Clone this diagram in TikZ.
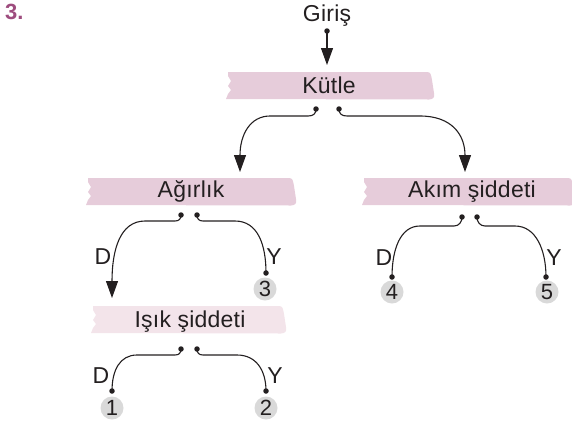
\documentclass[tikz,border=0pt]{standalone}
\usepackage{fontspec}
\setmainfont{Liberation Sans}
\usetikzlibrary{arrows.meta}
\definecolor{bannerA}{HTML}{E6CCDA}
\definecolor{bannerB}{HTML}{F3E4EA}
\definecolor{numgray}{HTML}{D9D9D9}
\definecolor{qpurple}{HTML}{9E4C7E}
\definecolor{ink}{HTML}{231F20}
% #1 left, #2 right, #3 top, #4 bottom, #5 colour
\newcommand{\mybanner}[5]{%
  \fill[#5] ({#1+1},{#3}) -- ({#2-6},{#3}) .. controls ({#2-2},{#3}) and ({#2-2},{#3+3}) .. ({#2-1},{#3+8})
    -- ({#2+1},{#4-6}) .. controls ({#2+2},{#4-1}) and ({#2},{#4}) .. ({#2-4},{#4+0.5})
    -- ({#1-1},{#4}) -- ({#1+1},{#4-5}) -- ({#1+4},{#4-9}) -- ({#1+1},{#4-13})
    -- ({#1+4},{#4-18}) -- ({#1+1},{#3+4}) -- cycle;}
\begin{document}
\begin{tikzpicture}[x=1pt,y=-1pt,
  txt/.style={inner sep=0pt,anchor=base,text=ink,font=\fontsize{23}{26}\selectfont\addfontfeature{LetterSpace=1}},
  dotn/.style={circle,fill=ink,inner sep=0pt,minimum size=5.5pt},
  num/.style={circle,fill=numgray,inner sep=0pt,minimum size=23pt,text=ink,font=\fontsize{22}{24}\selectfont},
  conn/.style={draw=ink,line width=1.1pt},
  arr/.style={conn,-{Triangle[length=17pt,width=12pt]}}]
\useasboundingbox (0,0) rectangle (572,426);
% title number
\node[anchor=base west,inner sep=0pt,text=qpurple,font=\fontsize{22}{24}\selectfont\bfseries] (qnum) at (5,19) {3.};
% banners
\mybanner{227}{433}{72}{99}{bannerA}
\mybanner{87}{295}{178}{205}{bannerA}
\mybanner{363}{574}{178}{205}{bannerA}
\mybanner{92}{285}{306}{333}{bannerB}
% texts
\node[txt] (giris) at (327,21) {Giriş};
\node[txt] (kutle) at (329,93) {Kütle};
\node[txt] (agirlik) at (191,197) {Ağırlık};
\node[txt] (akim) at (472,197) {Akım şiddeti};
\node[txt] (isik) at (190,327) {Işık şiddeti};
% labels
\node[txt] (d1) at (103,264) {D};
\node[txt] (y1) at (274,264) {Y};
\node[txt] (d2) at (384,265) {D};
\node[txt] (y2) at (554,265) {Y};
\node[txt] (d3) at (101,383) {D};
\node[txt] (y3) at (275,383) {Y};
% number circles
\node[num] (c3) at (265,289) {3};
\node[num] (c4) at (392,292) {4};
\node[num] (c5) at (547,292) {5};
\node[num] (c1) at (112,408) {1};
\node[num] (c2) at (266,408) {2};
% dots
\node[dotn] (gd) at (327,31) {};
\node[dotn] (kL) at (316,109) {};
\node[dotn] (kR) at (339,109) {};
\node[dotn] (aL) at (181,215) {};
\node[dotn] (aR) at (197,215) {};
\node[dotn] (mL) at (462,217) {};
\node[dotn] (mR) at (477,217) {};
\node[dotn] (iL) at (181,349) {};
\node[dotn] (iR) at (197,349) {};
\node[dotn] (e3) at (266,273) {};
\node[dotn] (e4) at (392,277) {};
\node[dotn] (e5) at (546,277) {};
\node[dotn] (e1) at (112,391) {};
\node[dotn] (e2) at (266,391) {};
% arrow targets
\coordinate (kin) at (327,65);
\coordinate (agin) at (240,172);
\coordinate (akin) at (465,172);
\coordinate (isin) at (112,298);
% connectors
\draw[arr] (gd.center) -- (kin);
\draw[arr] (kL.center) .. controls (316,114) and (313,116) .. (308,116) -- (270,116)
   .. controls (250,116) and (240,135) .. (agin);
\draw[arr] (kR.center) .. controls (339,114) and (342,116) .. (347,116) -- (420,116)
   .. controls (452,116) and (465,135) .. (akin);
\draw[arr] (aL.center) .. controls (181,219) and (179,221) .. (175,221) -- (145,221)
   .. controls (120,221) and (112,250) .. (isin);
\draw[conn] (aR.center) .. controls (197,219) and (199,221) .. (203,221) -- (235,221)
   .. controls (258,221) and (266,245) .. (e3.center);
\draw[conn] (mL.center) .. controls (462,222) and (459,226) .. (454,226) -- (420,226)
   .. controls (400,226) and (392,250) .. (e4.center);
\draw[conn] (mR.center) .. controls (477,222) and (480,226) .. (485,226) -- (515,226)
   .. controls (536,226) and (546,250) .. (e5.center);
\draw[conn] (iL.center) .. controls (181,353) and (179,355) .. (175,355) -- (137,355)
   .. controls (120,355) and (112,370) .. (e1.center);
\draw[conn] (iR.center) .. controls (197,353) and (199,355) .. (203,355) -- (237,355)
   .. controls (256,355) and (266,370) .. (e2.center);
\end{tikzpicture}
\end{document}
